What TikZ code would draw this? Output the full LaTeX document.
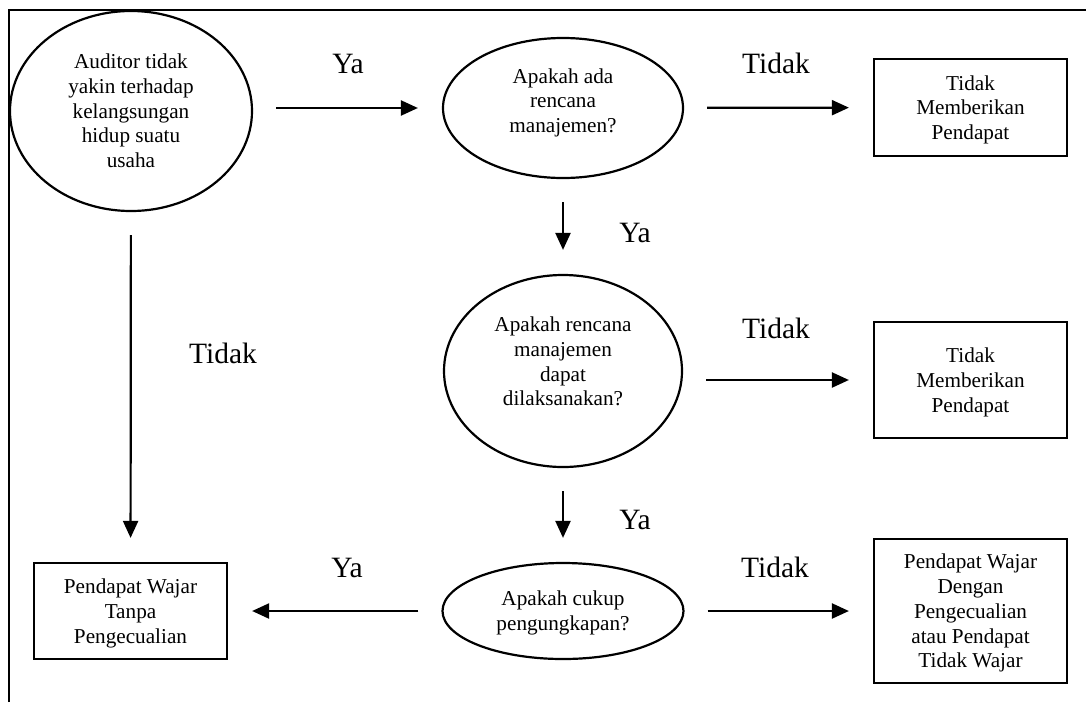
\documentclass[tikz,border=0pt]{standalone}
\usepackage{fontspec}
\setmainfont{Liberation Serif}
\usetikzlibrary{shapes.geometric,arrows.meta}

\tikzstyle{decision}=[ellipse, draw, line width=2.2pt, inner sep=0pt, align=center, font=\fontsize{21.2}{24.7}\selectfont]
\tikzstyle{outcome}=[rectangle, draw, line width=2.2pt, minimum width=193pt, inner sep=0pt, text depth=-2pt, align=center, font=\fontsize{21.2}{24.7}\selectfont]
\tikzstyle{flow} = [draw, line width=2.2pt, -{Triangle[length=17pt,width=15pt]}, shorten <=23pt, shorten >=24pt]
\tikzstyle{answer} = [anchor=base, inner sep=0pt, font=\fontsize{29.5}{33}\selectfont]

\begin{document}
\begin{tikzpicture}[x=1pt, y=-1pt]
	    \useasboundingbox (0,0) rectangle (1086,702);
	    \draw[line width=2.2pt] (9,702) -- (9,10) -- (1086,10);
	    % questions
	    \node[decision, minimum width=242pt, minimum height=200pt] (yakin) at (131,111) {Auditor tidak\\ yakin terhadap\\ kelangsungan\\ hidup suatu\\ usaha};
	    \node[decision, minimum width=240pt, minimum height=140pt, text depth=15pt] (rencana) at (563,108) {Apakah ada\\ rencana\\ manajemen?};
	    \node[decision, minimum width=238pt, minimum height=192pt, text depth=19pt] (laksana) at (563,371) {Apakah rencana\\ manajemen\\ dapat\\ dilaksanakan?};
	    \node[decision, minimum width=241pt, minimum height=96pt, text depth=1pt] (ungkap) at (563,611) {Apakah cukup\\ pengungkapan?};
	    % opinions
	    \node[outcome, minimum height=97pt] (tolak1) at (970.5,107.5) {Tidak\\ Memberikan\\ Pendapat};
	    \node[outcome, minimum height=116pt] (tolak2) at (970.5,380) {Tidak\\ Memberikan\\ Pendapat};
	    \node[outcome, minimum height=144pt] (kecuali) at (970.5,611) {Pendapat Wajar\\ Dengan\\ Pengecualian\\ atau Pendapat\\ Tidak Wajar};
	    \node[outcome, minimum height=96pt] (wajar) at (130.5,611) {Pendapat Wajar\\ Tanpa\\ Pengecualian};
	    % arrows
	    \path[flow] (yakin.east |- rencana) -- (rencana.west);
	    \path[flow] (rencana) -- (tolak1);
	    \path[flow] (rencana) -- (laksana);
	    \path[flow] (laksana.east |- tolak2) -- (tolak2.west);
	    \path[flow] (laksana) -- (ungkap);
	    \path[flow] (ungkap) -- (wajar);
	    \path[flow] (ungkap) -- (kecuali);
	    \path[flow] (yakin) -- (wajar);
	    \foreach \pos/\name/\txt in {{(348,73)/ya1/Ya}, {(776,73)/tidak1/Tidak}, {(635,242)/ya2/Ya}, {(776,338)/tidak2/Tidak}, {(223,363)/tidak3/Tidak}, {(635,529)/ya3/Ya}, {(347,577)/ya4/Ya}, {(775,577)/tidak4/Tidak}}
	        \node[answer] (\name) at \pos {\txt};
	\end{tikzpicture}
\end{document}
